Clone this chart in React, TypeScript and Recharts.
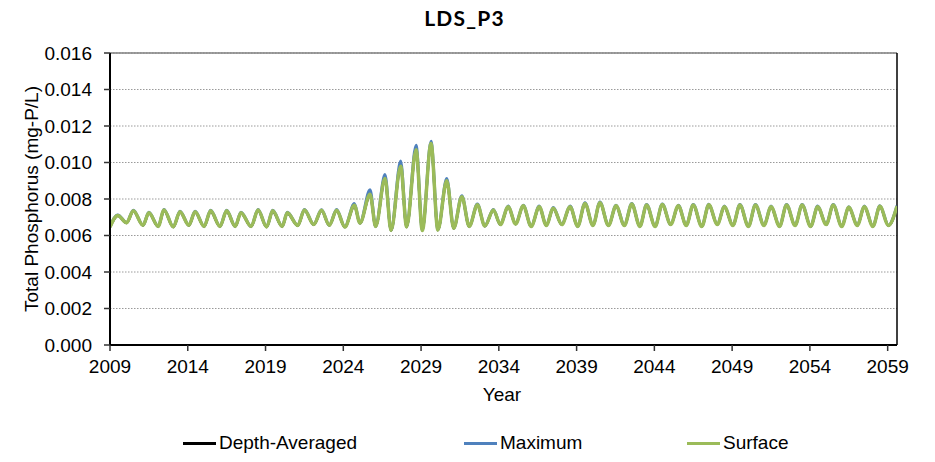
import React from "react";
import { LineChart, Line, XAxis, YAxis, CartesianGrid, ReferenceLine } from "recharts";

// decimal years of the seasonal troughs / peaks
const times = [
  2009.0, 2009.5, 2010.07, 2010.5, 2011.12, 2011.5, 2012.1, 2012.47, 2013.07, 2013.5,
  2014.07, 2014.47, 2015.05, 2015.47, 2016.07, 2016.5, 2017.05, 2017.42, 2018.07, 2018.52,
  2019.07, 2019.46, 2020.07, 2020.4, 2021.07, 2021.5, 2022.1, 2022.6, 2023.1, 2023.57,
  2024.1, 2024.71, 2025.07, 2025.72, 2026.08, 2026.68, 2027.07, 2027.69, 2028.07, 2028.68,
  2029.08, 2029.64, 2030.08, 2030.65, 2031.1, 2031.62, 2032.1, 2032.62, 2033.1, 2033.65,
  2034.1, 2034.6, 2035.08, 2035.57, 2036.08, 2036.6, 2037.05, 2037.5, 2038.05, 2038.58,
  2039.07, 2039.54, 2040.05, 2040.5, 2041.05, 2041.54, 2042.07, 2042.55, 2043.07, 2043.5,
  2044.05, 2044.51, 2045.05, 2045.54, 2046.05, 2046.5, 2047.05, 2047.5, 2048.05, 2048.5,
  2049.05, 2049.5, 2050.05, 2050.5, 2051.05, 2051.5, 2052.05, 2052.5, 2053.05, 2053.5,
  2054.05, 2054.5, 2055.05, 2055.5, 2056.05, 2056.5, 2057.05, 2057.5, 2058.05, 2058.5,
  2059.05, 2059.6,
];

const surface = [
  0.00647, 0.0071, 0.0067, 0.00736, 0.00656, 0.00724, 0.0065, 0.0074, 0.00647, 0.0073,
  0.00656, 0.0073, 0.0065, 0.00735, 0.0065, 0.00735, 0.0065, 0.00725, 0.0065, 0.0074,
  0.00647, 0.00735, 0.0065, 0.00724, 0.00655, 0.0074, 0.0066, 0.00738, 0.00656, 0.00738,
  0.00647, 0.00766, 0.00668, 0.00826, 0.0065, 0.00912, 0.00628, 0.00979, 0.00647, 0.0107,
  0.00628, 0.01104, 0.0063, 0.009, 0.0064, 0.00812, 0.0065, 0.00768, 0.00652, 0.0074,
  0.0066, 0.00758, 0.00663, 0.00763, 0.0065, 0.00758, 0.00655, 0.0075, 0.0066, 0.00758,
  0.0065, 0.00776, 0.00655, 0.0078, 0.00655, 0.00763, 0.00655, 0.00772, 0.0065, 0.00767,
  0.0065, 0.0077, 0.0066, 0.00763, 0.00655, 0.00767, 0.0065, 0.00768, 0.0066, 0.00758,
  0.00655, 0.00767, 0.0065, 0.00767, 0.00655, 0.00758, 0.0065, 0.00767, 0.00655, 0.00767,
  0.0065, 0.00758, 0.0066, 0.00767, 0.0065, 0.00755, 0.00655, 0.00758, 0.0065, 0.0076,
  0.00655, 0.0076,
];

const maximum = [
  0.00648, 0.00713, 0.00671, 0.00739, 0.00657, 0.00727, 0.00651, 0.00743, 0.00648, 0.00733,
  0.00657, 0.00733, 0.00651, 0.00738, 0.00651, 0.00738, 0.00651, 0.00728, 0.00651, 0.00743,
  0.00648, 0.00738, 0.00651, 0.00727, 0.00656, 0.00743, 0.00661, 0.00741, 0.00657, 0.00742,
  0.00648, 0.00775, 0.00669, 0.00851, 0.00651, 0.00934, 0.0063, 0.01008, 0.00649, 0.01094,
  0.0063, 0.01116, 0.00632, 0.00912, 0.00641, 0.00818, 0.00651, 0.00772, 0.00653, 0.00743,
  0.00661, 0.00761, 0.00664, 0.00766, 0.00651, 0.00761, 0.00656, 0.00753, 0.00661, 0.00761,
  0.00651, 0.00779, 0.00656, 0.00783, 0.00656, 0.00766, 0.00656, 0.00775, 0.00651, 0.0077,
  0.00651, 0.00773, 0.00661, 0.00766, 0.00656, 0.0077, 0.00651, 0.00771, 0.00661, 0.00761,
  0.00656, 0.0077, 0.00651, 0.0077, 0.00656, 0.00761, 0.00651, 0.0077, 0.00656, 0.0077,
  0.00651, 0.00761, 0.00661, 0.0077, 0.00651, 0.00758, 0.00656, 0.00761, 0.00651, 0.00763,
  0.00656, 0.00763,
];

const depthAveraged = [
  0.00646, 0.00708, 0.00669, 0.00733, 0.00655, 0.00722, 0.00649, 0.00737, 0.00646, 0.00728,
  0.00655, 0.00728, 0.00649, 0.00732, 0.00649, 0.00732, 0.00649, 0.00722, 0.00649, 0.00737,
  0.00646, 0.00732, 0.00649, 0.00722, 0.00654, 0.00737, 0.00659, 0.00735, 0.00655, 0.00735,
  0.00646, 0.00762, 0.00667, 0.0082, 0.00649, 0.00905, 0.00627, 0.00972, 0.00646, 0.01062,
  0.00627, 0.01098, 0.00629, 0.00896, 0.00639, 0.00809, 0.00649, 0.00765, 0.00651, 0.00737,
  0.00659, 0.00755, 0.00662, 0.0076, 0.00649, 0.00755, 0.00654, 0.00747, 0.00659, 0.00755,
  0.00649, 0.00773, 0.00654, 0.00777, 0.00654, 0.0076, 0.00654, 0.00769, 0.00649, 0.00764,
  0.00649, 0.00767, 0.00659, 0.0076, 0.00654, 0.00764, 0.00649, 0.00765, 0.00659, 0.00755,
  0.00654, 0.00764, 0.00649, 0.00764, 0.00654, 0.00755, 0.00649, 0.00764, 0.00654, 0.00764,
  0.00649, 0.00755, 0.00659, 0.00764, 0.00649, 0.00752, 0.00654, 0.00755, 0.00649, 0.00757,
  0.00654, 0.00757,
];

const xTicks = [2009, 2014, 2019, 2024, 2029, 2034, 2039, 2044, 2049, 2054, 2059];
const yTicks = [0, 0.002, 0.004, 0.006, 0.008, 0.01, 0.012, 0.014, 0.016];
const xDomainEnd = 2059.6;

const seriesInfo = [
  { key: "depthAveraged", name: "Depth-Averaged", color: "#000000", width: 2.5 },
  { key: "maximum", name: "Maximum", color: "#4F81BD", width: 3 },
  { key: "surface", name: "Surface", color: "#9BBB59", width: 3.5 },
];

const data = times.map((t, i) => ({
  t,
  depthAveraged: depthAveraged[i],
  maximum: maximum[i],
  surface: surface[i],
}));

const FONT = "'Liberation Sans', Arial, sans-serif";

export default function App() {
  const legendLeft = [183, 464, 687];
  return (
    <div style={{ position: "absolute", left: 0, top: 0, width: 935, height: 462, background: "#fff", overflow: "hidden" }}>
      <div
        style={{
          position: "absolute",
          left: 0,
          width: 929,
          top: 5,
          textAlign: "center",
          fontFamily: "Lato, 'Open Sans', sans-serif",
          fontWeight: 700,
          fontSize: 21,
          letterSpacing: 1.2,
          color: "#000",
        }}
      >
        LDS_P3
      </div>
      <LineChart width={935} height={462} data={data} margin={{ top: 53, right: 38, bottom: 0, left: 0 }}>
        <CartesianGrid horizontal vertical={false} stroke="#9a9a9a" strokeDasharray="1.5 1.5" />
        <XAxis
          dataKey="t"
          type="number"
          domain={[2009, xDomainEnd]}
          ticks={xTicks}
          allowDataOverflow
          height={117}
          tickSize={6}
          tickMargin={9}
          stroke="#000"
          strokeWidth={2}
          tick={{ fontFamily: FONT, fontSize: 19, fill: "#000" }}
          tickLine={{ stroke: "#333", strokeWidth: 1.5 }}
          label={{
            content: () => (
              <text x={502} y={401} textAnchor="middle" fontFamily={FONT} fontSize={19} fill="#000">
                Year
              </text>
            ),
          }}
        />
        <YAxis
          type="number"
          domain={[0, 0.016]}
          ticks={yTicks}
          width={110}
          tickSize={6}
          tickMargin={12}
          stroke="#000"
          strokeWidth={2}
          tickFormatter={(v: number) => v.toFixed(3)}
          tick={{ fontFamily: FONT, fontSize: 19, fill: "#000" }}
          tickLine={{ stroke: "#333", strokeWidth: 1.5 }}
          label={{
            content: () => (
              <text
                x={38}
                y={199}
                textAnchor="middle"
                transform="rotate(-90 38 199)"
                fontFamily={FONT}
                fontSize={19}
                fill="#000"
              >
                Total Phosphorus (mg-P/L)
              </text>
            ),
          }}
        />
        <ReferenceLine y={0.016} stroke="#7f7f7f" strokeWidth={1.5} />
        <ReferenceLine x={xDomainEnd} stroke="#000" strokeWidth={1.5} />
        {seriesInfo.map((s) => (
          <Line
            key={s.key}
            dataKey={s.key}
            name={s.name}
            type="monotone"
            stroke={s.color}
            strokeWidth={s.width}
            dot={false}
            activeDot={false}
            isAnimationActive={false}
          />
        ))}
      </LineChart>
      {seriesInfo.map((s, i) => (
        <div
          key={s.key}
          style={{
            position: "absolute",
            left: legendLeft[i],
            top: 432,
            height: 22,
            display: "flex",
            alignItems: "center",
            fontFamily: FONT,
            fontSize: 19,
            color: "#000",
            whiteSpace: "nowrap",
          }}
        >
          <span style={{ display: "inline-block", width: 33, height: 3, background: s.color, marginRight: 3 }} />
          <span>{s.name}</span>
        </div>
      ))}
    </div>
  );
}
